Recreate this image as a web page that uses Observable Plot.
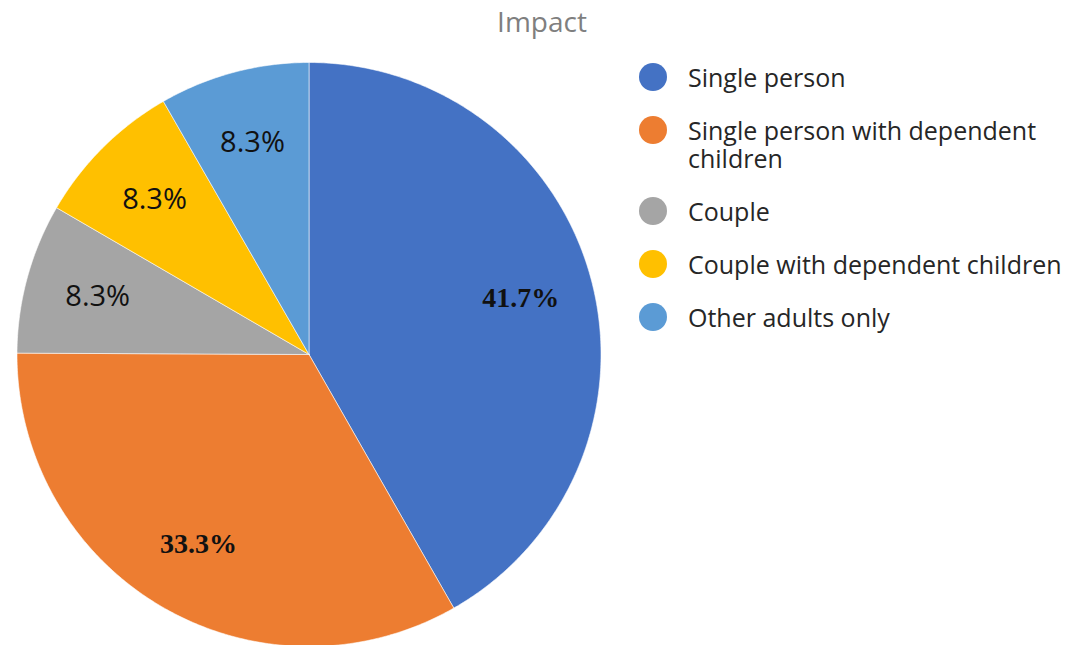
<!DOCTYPE html>
<html>
<head>
<meta charset="utf-8">
<script src="https://cdn.jsdelivr.net/npm/d3@7"></script>
<script src="https://cdn.jsdelivr.net/npm/@observablehq/plot@0.6"></script>
<style>
  html, body { margin: 0; padding: 0; background: #fff; }
  #wrap { position: relative; width: 1082px; height: 645px; overflow: hidden; }
  #title { position: absolute; left: 0; width: 1082px; top: 2px; text-align: center; padding-left: 1px;
           font-family: "Open Sans", sans-serif; font-size: 28px; color: #7f7f7f; }
  #legend { position: absolute; left: 639px; top: 63px; font-family: "Open Sans", sans-serif;
            font-size: 25px; color: #262626; }
  .row { display: flex; align-items: flex-start; margin-bottom: 25px; }
  .sw { width: 28px; height: 28px; border-radius: 50%; flex: none; margin-right: 21px; }
  .lab { line-height: 28px; width: 400px; }
  #chart { position: absolute; left: 0; top: 0; }
</style>
</head>
<body>
<div id="wrap">
  <div id="chart"></div>
  <div id="title">Impact</div>
  <div id="legend"></div>
</div>
<script>
const categories = ["Single person", "Single person with dependent children", "Couple", "Couple with dependent children", "Other adults only"];
const values = [41.7, 33.3, 8.3, 8.3, 8.3];
const labels = ["41.7%", "33.3%", "8.3%", "8.3%", "8.3%"];
const colors = ["#4472C4", "#ED7D31", "#A5A5A5", "#FFC000", "#5B9BD5"];
const labelStyle = ["bold", "bold", "plain", "plain", "plain"];

const W = 1082, H = 645;
const cx = 308.5, cy = 354, R = 292;

const arcs = d3.pie().sort(null).startAngle(0).endAngle(2 * Math.PI)(values);

const polys = [];
arcs.forEach((a, i) => {
  const cat = categories[i];
  polys.push({cat, x: 0, y: 0});
  const n = Math.max(8, Math.ceil((a.endAngle - a.startAngle) / 0.01));
  for (let k = 0; k <= n; k++) {
    const t = a.startAngle + (a.endAngle - a.startAngle) * k / n;
    polys.push({cat, x: Math.sin(t), y: Math.cos(t)});
  }
  polys.push({cat, x: 0, y: 0});
});

const labelRows = arcs.map((a, i) => {
  const m = (a.startAngle + a.endAngle) / 2;
  const r = 0.75;
  return {cat: categories[i], text: labels[i], style: labelStyle[i], x: r * Math.sin(m), y: r * Math.cos(m)};
});

const chart = Plot.plot({
  width: W, height: H,
  margin: 0,
  x: {domain: [-cx / R, (W - cx) / R], axis: null},
  y: {domain: [-(H - cy) / R, cy / R], axis: null},
  color: {domain: categories, range: colors},
  marks: [
    Plot.line(polys, {x: "x", y: "y", z: "cat", fill: "cat", stroke: "#fff", strokeWidth: 0.8, strokeOpacity: 0.7, curve: "linear"}),
    Plot.text(labelRows.filter(d => d.style === "bold"), {x: "x", y: "y", text: "text",
      fontFamily: "Liberation Serif, serif", fontWeight: "bold", fontSize: 28, fill: "#111"}),
    Plot.text(labelRows.filter(d => d.style !== "bold"), {x: "x", y: "y", text: "text",
      fontFamily: "Open Sans, sans-serif", fontSize: 29, fill: "#111"})
  ]
});
document.getElementById("chart").appendChild(chart);

const legend = document.getElementById("legend");
categories.forEach((c, i) => {
  const row = document.createElement("div");
  row.className = "row";
  const sw = document.createElement("div");
  sw.className = "sw";
  sw.style.background = colors[i];
  const lab = document.createElement("div");
  lab.className = "lab";
  lab.textContent = c;
  row.appendChild(sw);
  row.appendChild(lab);
  legend.appendChild(row);
});
</script>
</body>
</html>
